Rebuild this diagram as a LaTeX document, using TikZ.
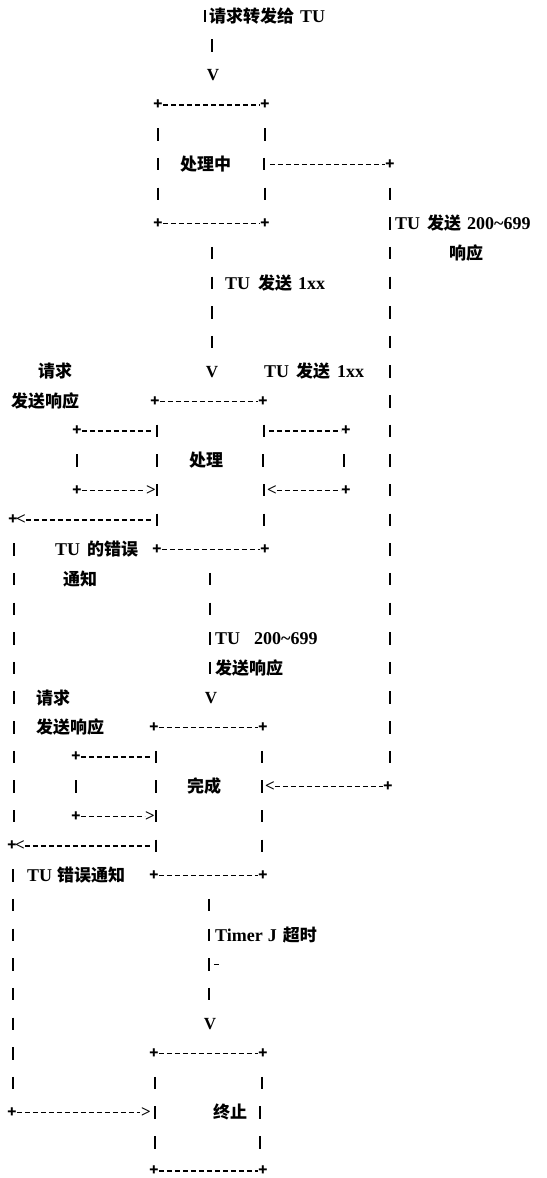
\documentclass[tikz,border=0pt]{standalone}
\usepackage{fontspec}
\setmainfont{Liberation Serif}
\newfontfamily\cjk{Noto Sans CJK SC}
\newcommand\zh[1]{{\cjk\fontsize{17}{18}\selectfont #1}}
\newcommand\gapsp{\hspace{6pt}}
\tikzset{
  lbl/.style={anchor=base west, inner sep=0pt, font=\bfseries\fontsize{18}{20}\selectfont, yshift=-6.3pt},
  glyph/.style={inner sep=0pt, font=\bfseries\fontsize{17}{20}\selectfont},
  plus/.style={inner sep=0pt, font=\cjk\bfseries\fontsize{15}{15}\selectfont},
  vbar/.style={line width=1.4pt},
  hdash/.style={line width=1.3pt, dash pattern=on 5pt off 3pt},
}
\newcommand\VB[2]{\draw[vbar] (#1,#2-0.21) -- (#1,#2+0.21);}
\newcommand\HD[3]{\draw[hdash] (#1,#3) -- (#2,#3);}
\newcommand\PL[3]{\node[plus] (#1) at (#2,#3) {+};}
\begin{document}
\begin{tikzpicture}[x=1pt, y=-29.64pt]
\useasboundingbox[fill=white] (0,0.4602) rectangle (547,40.2045);
% ---- top entry
\VB{205}{1}
\node[lbl] (req) at (209,1) {\zh{请求转发给}\gapsp TU};
\VB{212}{2}
\node[glyph] (v1) at (213,3) {V};
% ---- box: 处理中
\PL{p1a}{158}{4}\HD{163}{260}{4}\PL{p1b}{265}{4}
\VB{158}{5}\VB{265}{5}
\VB{158}{6}\node[lbl] (s1) at (180,6) {\zh{处理中}};\VB{264}{6}
\HD{270}{385}{6}\PL{p1c}{390}{6}
\VB{158}{7}\VB{265}{7}
\PL{p1d}{158}{8}\HD{163}{260}{8}\PL{p1e}{265}{8}
% right long line
\foreach \r in {7,...,26} {\VB{390}{\r}}
\node[lbl] (t1) at (395,8) {TU\hspace{7pt}\zh{发送}\hspace{6pt}200\textasciitilde 699};
\node[lbl] (t1b) at (449,9) {\zh{响应}};
% ---- 1xx
\foreach \r in {9,...,12} {\VB{212}{\r}}
\node[lbl] (t2) at (225,10) {TU\hspace{8pt}\zh{发送}\hspace{6pt}1xx};
\node[glyph] (v2) at (212,13) {V};
\node[lbl] (t3) at (264,13) {TU\hspace{7pt}\zh{发送}\hspace{7pt}1xx};
\node[lbl] (t4) at (38,13) {\zh{请求}};
\node[lbl] (t5) at (11,14) {\zh{发送响应}};
% ---- box: 处理
\PL{p2a}{155}{14}\HD{160}{258}{14}\PL{p2b}{263}{14}
\PL{p2c}{77}{15}\HD{82}{153}{15}\VB{157}{15}
\VB{264}{15}\HD{269}{341}{15}\PL{p2d}{346}{15}
\VB{77}{16}\VB{157}{16}\node[lbl] (s2) at (189,16) {\zh{处理}};\VB{263}{16}\VB{344}{16}
\PL{p2e}{77}{17}\HD{82}{146}{17}\node[glyph] (a1) at (151,17) {>};\VB{157}{17}
\VB{264}{17}\node[glyph] (a2) at (272,17) {<};\HD{277}{341}{17}\PL{p2f}{346}{17}
\PL{p2g}{13}{18}\node[glyph] (a3) at (21,18) {<};\HD{26}{152}{18}\VB{157}{18}\VB{264}{18}
\PL{p2h}{157}{19}\HD{162}{260}{19}\PL{p2i}{265}{19}
\node[lbl] (t6) at (55,19) {TU\hspace{7pt}\zh{的错误}};
\node[lbl] (t7) at (63,20) {\zh{通知}};
% left long line
\foreach \r in {19,...,28} {\VB{14}{\r}}
% ---- 200~699 to 完成
\foreach \r in {20,...,23} {\VB{210}{\r}}
\node[lbl] (t8) at (215,22) {TU\hspace{14pt}200\textasciitilde 699};
\node[lbl] (t9) at (215,23) {\zh{发送响应}};
\node[glyph] (v3) at (211,24) {V};
\node[lbl] (t10) at (36,24) {\zh{请求}};
\node[lbl] (t11) at (36,25) {\zh{发送响应}};
% ---- box: 完成
\PL{p3a}{154}{25}\HD{159}{258}{25}\PL{p3b}{263}{25}
\PL{p3c}{76}{26}\HD{81}{152}{26}\VB{156}{26}\VB{262}{26}
\VB{76}{27}\VB{156}{27}\node[lbl] (s3) at (187,27) {\zh{完成}};\VB{262}{27}
\node[glyph] (a4) at (270,27) {<};\HD{275}{383}{27}\PL{p3d}{388}{27}
\PL{p3e}{76}{28}\HD{81}{145}{28}\node[glyph] (a5) at (150,28) {>};\VB{156}{28}\VB{262}{28}
\PL{p3f}{12}{29}\node[glyph] (a6) at (20,29) {<};\HD{25}{151}{29}\VB{156}{29}\VB{262}{29}
\PL{p3g}{154}{30}\HD{159}{258}{30}\PL{p3h}{263}{30}
\node[lbl] (t12) at (27,30) {TU\hspace{5pt}\zh{错误通知}};
\foreach \r in {30,...,37} {\VB{13}{\r}}
% ---- Timer J
\foreach \r in {31,...,34} {\VB{209}{\r}}
\node[lbl] (t13) at (215,32) {Timer\hspace{5pt}J\hspace{6pt}\zh{超时}};
\draw[line width=1.2pt] (214,33) -- (219,33);
\node[glyph] (v4) at (210,35) {V};
% ---- box: 终止
\PL{p4a}{154}{36}\HD{159}{258}{36}\PL{p4b}{263}{36}
\VB{155}{37}\VB{262}{37}
\PL{p4c}{12}{38}\HD{17}{140}{38}\node[glyph] (a7) at (146,38) {>};\VB{155}{38}
\node[lbl] (s4) at (213,38) {\zh{终止}};\VB{260}{38}
\VB{155}{39}\VB{260}{39}
\PL{p4d}{154}{39.97}\HD{159}{258}{39.97}\PL{p4e}{263}{39.97}
\end{tikzpicture}
\end{document}
